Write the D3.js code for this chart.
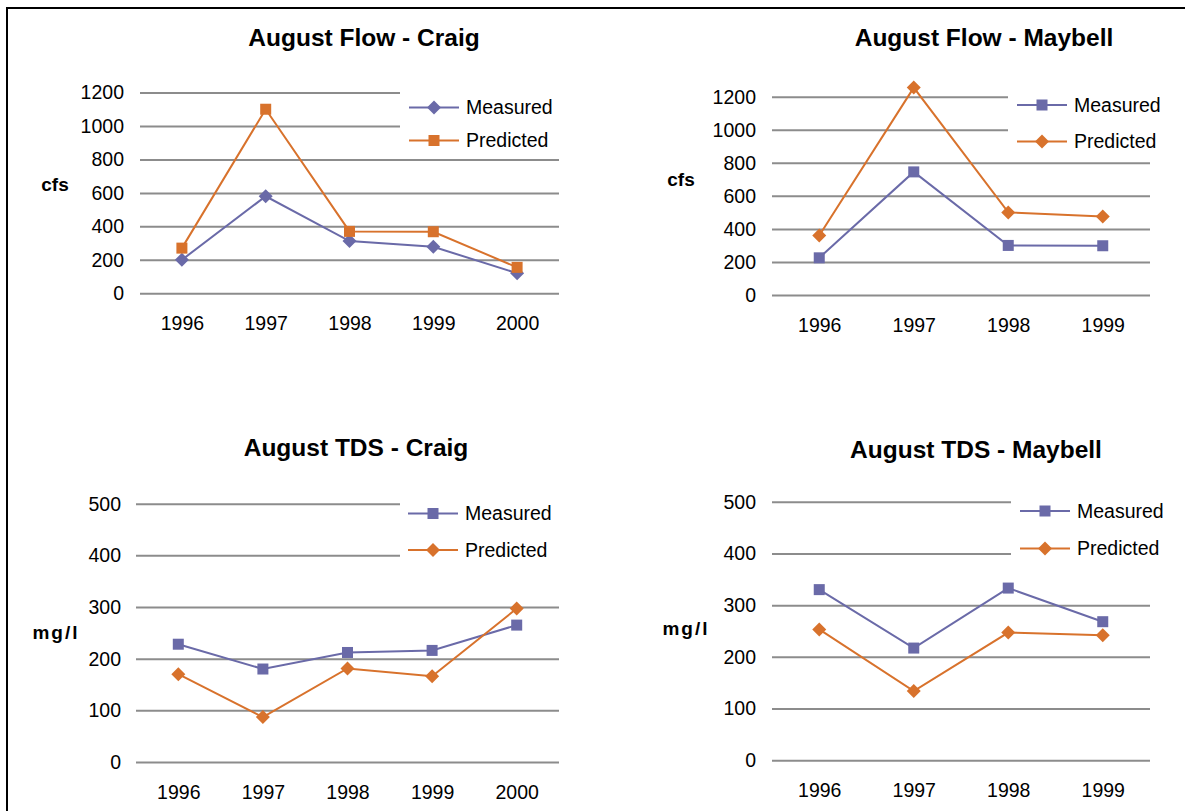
<!DOCTYPE html>
<html>
<head>
<meta charset="utf-8">
<script src="https://cdn.jsdelivr.net/npm/d3@7"></script>
<style>
  html, body { margin: 0; padding: 0; background: #fff; }
  svg { display: block; }
  text { font-family: "Liberation Sans", Arial, sans-serif; fill: #000; }
</style>
</head>
<body>
<svg id="chart" width="1185" height="811"></svg>
<script>
// ---------- data ----------
const years5 = ["1996", "1997", "1998", "1999", "2000"];
const years4 = ["1996", "1997", "1998", "1999"];
const flowTicks = [0, 200, 400, 600, 800, 1000, 1200];
const tdsTicks = [0, 100, 200, 300, 400, 500];
const seriesNames = ["Measured", "Predicted"];

const craigFlowMeasured = [200, 580, 312, 278, 120];
const craigFlowPredicted = [270, 1100, 370, 368, 155];
const maybellFlowMeasured = [225, 745, 300, 298];
const maybellFlowPredicted = [360, 1255, 500, 475];
const craigTdsMeasured = [228, 180, 212, 216, 265];
const craigTdsPredicted = [170, 87, 181, 166, 297];
const maybellTdsMeasured = [330, 217, 333, 268];
const maybellTdsPredicted = [253, 134, 247, 242];

const titles = ["August Flow - Craig", "August Flow - Maybell", "August TDS - Craig", "August TDS - Maybell"];
const unitLabels = ["cfs", "cfs", "mg/l", "mg/l"];

// ---------- style ----------
const purple = "#6a6aa8";
const orange = "#d8722c";
const gridColor = "#8c8c8c";

const svg = d3.select("#chart");

// outer frame (top + left)
svg.append("line").attr("x1", 7).attr("x2", 1185).attr("y1", 8).attr("y2", 8)
  .attr("stroke", "#000").attr("stroke-width", 2);
svg.append("line").attr("x1", 7).attr("x2", 7).attr("y1", 7).attr("y2", 811)
  .attr("stroke", "#000").attr("stroke-width", 2);

const charts = [
  { title: titles[0], unit: unitLabels[0], cats: years5, ticks: flowTicks,
    measured: craigFlowMeasured, predicted: craigFlowPredicted,
    mShape: "diamond", pShape: "square",
    x0: 140, x1: 559, yZero: 293.3, yTop: 92.5,
    titleX: 364, titleY: 46, unitX: 55, unitY: 191,
    yLabelRight: 124, xLabelY: 323.5,
    legX: 409, legY1: 107.5, legY2: 140.5, legBox: [400, 85, 170, 66] },
  { title: titles[1], unit: unitLabels[1], cats: years4, ticks: flowTicks,
    measured: maybellFlowMeasured, predicted: maybellFlowPredicted,
    mShape: "square", pShape: "diamond",
    x0: 772, x1: 1150, yZero: 295, yTop: 96.7,
    titleX: 984, titleY: 46, unitX: 681, unitY: 186,
    yLabelRight: 756, xLabelY: 325,
    legX: 1017, legY1: 105, legY2: 141.5, legBox: [1008, 84, 177, 70] },
  { title: titles[2], unit: unitLabels[2], cats: years5, ticks: tdsTicks,
    measured: craigTdsMeasured, predicted: craigTdsPredicted,
    mShape: "square", pShape: "diamond",
    x0: 136, x1: 559, yZero: 762, yTop: 503.7,
    titleX: 356, titleY: 456, unitX: 56, unitY: 639,
    yLabelRight: 121, xLabelY: 792,
    legX: 408, legY1: 513.5, legY2: 550, legBox: [400, 492, 170, 72] },
  { title: titles[3], unit: unitLabels[3], cats: years4, ticks: tdsTicks,
    measured: maybellTdsMeasured, predicted: maybellTdsPredicted,
    mShape: "square", pShape: "diamond",
    x0: 772, x1: 1150, yZero: 760.3, yTop: 501.7,
    titleX: 976, titleY: 458, unitX: 686, unitY: 635,
    yLabelRight: 756, xLabelY: 790,
    legX: 1020, legY1: 511, legY2: 548.5, legBox: [1011, 490, 174, 72] }
];

function marker(sel, shape, color) {
  if (shape === "square") {
    sel.append("rect").attr("x", -5.5).attr("y", -5.5).attr("width", 11).attr("height", 11)
      .attr("fill", color);
  } else {
    sel.append("path").attr("d", "M0,-7 L7,0 L0,7 L-7,0 Z").attr("fill", color);
  }
}

charts.forEach(c => {
  const g = svg.append("g");
  const x = d3.scalePoint().domain(c.cats).range([c.x0, c.x1]).padding(0.5);
  const y = d3.scaleLinear().domain([0, d3.max(c.ticks)]).range([c.yZero, c.yTop]);

  // gridlines via axis
  const yAxis = d3.axisLeft(y).tickValues(c.ticks).tickSize(-(c.x1 - c.x0)).tickFormat("");
  const ga = g.append("g").attr("transform", `translate(${c.x0},0)`).call(yAxis);
  ga.select(".domain").remove();
  ga.selectAll(".tick line").attr("stroke", gridColor).attr("stroke-width", 2);

  // y tick labels
  g.selectAll(".ylab").data(c.ticks).enter().append("text")
    .attr("x", c.yLabelRight).attr("y", d => y(d))
    .attr("dy", "0.35em").attr("text-anchor", "end")
    .style("font-size", "19.5px").text(d => d);

  // x tick labels
  const xAxis = d3.axisBottom(x).tickSize(0).tickPadding(0);
  const gx = g.append("g").attr("transform", `translate(0,${c.xLabelY})`).call(xAxis);
  gx.select(".domain").remove();
  gx.selectAll(".tick text").attr("y", 0).attr("dy", "0.35em")
    .style("font-size", "19.5px").style("font-family", '"Liberation Sans", Arial, sans-serif')
    .attr("fill", "#000");

  // title
  g.append("text").attr("x", c.titleX).attr("y", c.titleY).attr("text-anchor", "middle")
    .style("font-size", "24.5px").style("font-weight", "bold").text(c.title);

  // unit label
  g.append("text").attr("x", c.unitX).attr("y", c.unitY).attr("text-anchor", "middle")
    .style("font-size", "19px").style("font-weight", "bold")
    .style("letter-spacing", c.unit === "mg/l" ? "2px" : "0px").text(c.unit);

  // legend box (white, covers gridlines)
  g.append("rect").attr("x", c.legBox[0]).attr("y", c.legBox[1])
    .attr("width", c.legBox[2]).attr("height", c.legBox[3]).attr("fill", "#fff");

  const line = d3.line().x((d, i) => x(c.cats[i])).y(d => y(d));
  const series = [
    { name: seriesNames[0], values: c.measured, color: purple, shape: c.mShape, ly: c.legY1 },
    { name: seriesNames[1], values: c.predicted, color: orange, shape: c.pShape, ly: c.legY2 }
  ];

  series.forEach(s => {
    g.append("path").datum(s.values).attr("d", line)
      .attr("fill", "none").attr("stroke", s.color).attr("stroke-width", 2);
    g.selectAll(null).data(s.values).enter().append("g")
      .attr("transform", (d, i) => `translate(${x(c.cats[i])},${y(d)})`)
      .each(function () { marker(d3.select(this), s.shape, s.color); });

    // legend entry
    g.append("line").attr("x1", c.legX).attr("x2", c.legX + 50)
      .attr("y1", s.ly).attr("y2", s.ly).attr("stroke", s.color).attr("stroke-width", 2);
    const lm = g.append("g").attr("transform", `translate(${c.legX + 25},${s.ly})`);
    marker(lm, s.shape, s.color);
    g.append("text").attr("x", c.legX + 57).attr("y", s.ly).attr("dy", "0.35em")
      .style("font-size", "19.5px").text(s.name);
  });
});
</script>
</body>
</html>
